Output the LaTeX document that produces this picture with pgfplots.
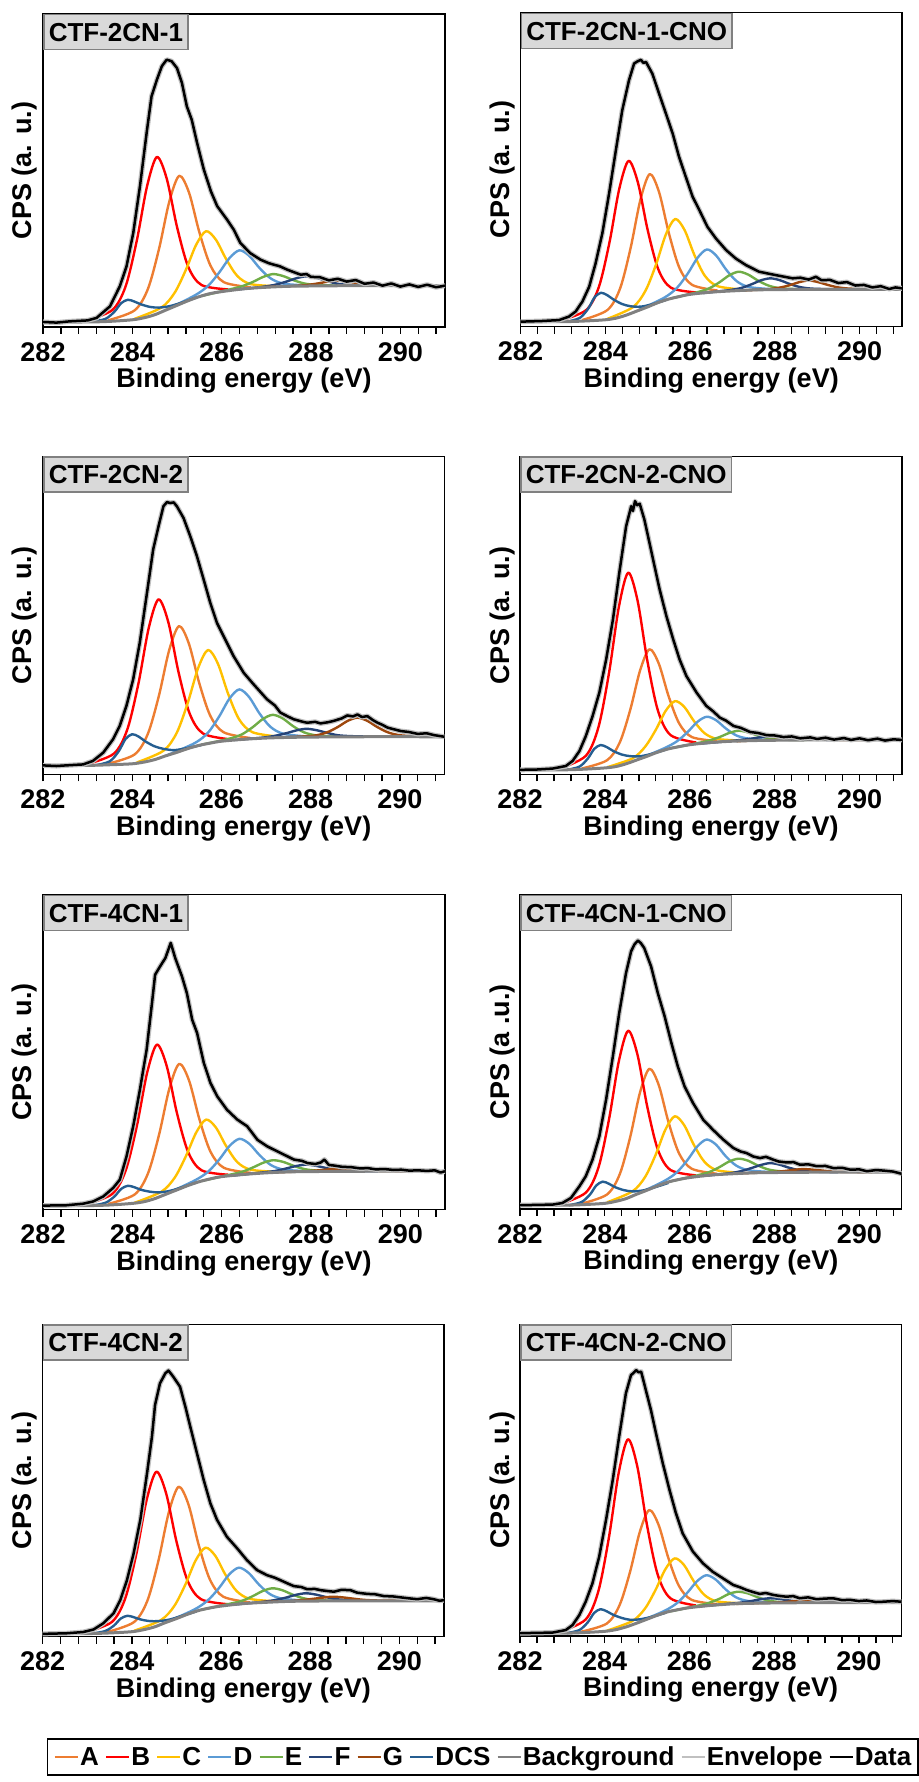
\documentclass[border=0pt]{standalone}
\usepackage{pgfplots}
\usepackage{pgfplotstable}
\pgfplotsset{compat=1.18}
\usepackage{fontspec}
\setmainfont{Liberation Sans}
\newcommand{\F}{\fontsize{26}{31}\selectfont\bfseries}
\newcommand{\FL}{\fontsize{27}{32}\selectfont\bfseries}
\definecolor{cA}{HTML}{ED7D31}
\definecolor{cB}{HTML}{FF0000}
\definecolor{cC}{HTML}{FFC000}
\definecolor{cD}{HTML}{5B9BD5}
\definecolor{cE}{HTML}{70AD47}
\definecolor{cF}{HTML}{264478}
\definecolor{cG}{HTML}{9E480E}
\definecolor{cDCS}{HTML}{255E91}
\definecolor{cBg}{HTML}{808080}
\definecolor{cEnv}{HTML}{C0C0C0}
\definecolor{boxfill}{HTML}{D9D9D9}
\definecolor{boxdraw}{HTML}{808080}

\pgfplotstableread{
x y
282.0 1.6
282.3 1.4
282.6 1.8
283.0 2.1
283.2 2.9
283.5 6.6
283.72 13.0
283.87 19.4
284.02 30.0
284.17 44.9
284.32 62.0
284.43 73.7
284.55 79.0
284.66 83.3
284.77 85.4
284.88 84.9
285.0 82.7
285.11 78.0
285.22 70.5
285.33 66.2
285.45 58.8
285.6 50.3
285.76 43.3
285.9 38.6
286.12 34.3
286.27 31.1
286.42 26.8
286.64 23.6
286.87 21.5
287.05 20.4
287.17 19.9
287.3 19.4
287.47 18.3
287.6 17.6
287.77 16.7
287.9 16.9
288.0 16.0
288.2 15.9
288.4 14.9
288.6 15.4
288.8 14.5
289.0 15.0
289.2 13.8
289.4 14.2
289.6 13.2
289.8 13.9
290.0 12.9
290.2 13.6
290.4 12.8
290.6 13.5
290.8 12.7
291.0 13.2
}\dA

\pgfplotstableread{
x y
282.0 1.6
282.5 1.8
282.91 2.1
283.14 3.2
283.3 4.8
283.46 8.0
283.62 12.7
283.77 20.1
283.93 29.7
284.09 42.4
284.25 56.2
284.4 68.9
284.56 78.5
284.68 83.8
284.76 84.5
284.84 85.0
284.9 84.0
284.96 84.3
285.11 80.6
285.27 74.2
285.43 67.9
285.59 61.5
285.74 54.1
285.9 47.7
286.06 41.4
286.22 37.1
286.41 31.8
286.61 28.1
286.85 24.4
287.08 21.7
287.32 19.6
287.63 17.5
288.03 16.4
288.42 15.4
288.6 15.6
288.8 15.0
288.97 15.9
289.1 14.8
289.3 14.9
289.5 13.9
289.7 14.2
289.9 13.1
290.1 13.3
290.3 12.5
290.5 12.9
290.7 12.0
290.85 12.5
291.0 12.2
}\dB

\pgfplotstableread{
x y
282.0 2.8
282.3 2.6
282.52 2.8
282.9 3.1
283.12 4.2
283.35 6.8
283.57 11.0
283.72 15.2
283.87 21.5
284.02 29.8
284.17 41.4
284.32 56.0
284.47 70.7
284.59 78.0
284.7 84.3
284.78 85.6
284.85 85.3
284.93 85.5
285.0 84.3
285.15 80.6
285.3 74.9
285.45 68.6
285.6 61.3
285.75 53.9
285.9 47.6
286.12 41.4
286.27 37.2
286.5 31.9
286.72 28.3
287.02 23.6
287.2 21.6
287.32 19.4
287.5 18.1
287.62 17.3
287.8 16.6
287.92 16.2
288.1 16.5
288.22 16.0
288.4 16.4
288.52 16.8
288.7 17.6
288.82 18.5
288.95 18.2
289.05 18.8
289.15 18.0
289.27 18.3
289.4 17.0
289.5 16.2
289.6 15.6
289.72 14.7
289.85 14.2
290.02 13.6
290.2 13.3
290.4 12.7
290.6 12.9
290.77 12.3
291.0 11.8
}\dC

\pgfplotstableread{
x y
282.0 1.4
282.4 1.5
282.77 1.8
283.08 2.6
283.24 4.2
283.4 7.3
283.55 12.0
283.71 18.3
283.87 25.7
284.03 36.1
284.19 48.7
284.34 63.4
284.5 78.0
284.62 84.3
284.66 82.8
284.71 85.9
284.76 84.6
284.82 85.1
284.93 80.1
285.05 72.8
285.17 65.4
285.29 58.1
285.45 49.7
285.61 42.4
285.76 36.1
285.92 30.9
286.16 25.7
286.39 21.5
286.55 19.8
286.71 17.8
286.85 16.9
287.03 15.2
287.2 14.6
287.42 13.3
287.6 13.0
287.81 12.3
288.0 12.2
288.21 11.7
288.4 11.9
288.6 11.3
288.84 11.6
289.0 11.1
289.2 11.5
289.4 10.9
289.63 11.4
289.8 10.8
290.0 11.3
290.2 10.7
290.42 11.2
290.6 10.6
290.8 11.0
291.0 10.8
}\dD

\pgfplotstableread{
x y
282.0 1.3
282.52 1.4
282.9 1.9
283.12 2.6
283.35 4.2
283.57 6.9
283.72 9.5
283.87 16.9
284.02 26.5
284.17 38.1
284.32 50.8
284.44 65.6
284.51 74.6
284.62 77.2
284.74 79.9
284.86 84.7
284.96 79.9
285.11 74.1
285.22 68.8
285.34 60.3
285.45 56.1
285.6 46.6
285.75 40.2
285.9 36.0
286.12 31.7
286.35 28.6
286.57 26.5
286.8 22.2
287.02 20.1
287.32 18.0
287.62 15.9
287.8 15.5
287.92 14.8
288.1 14.5
288.22 15.0
288.3 15.9
288.4 14.2
288.52 14.0
288.7 13.6
288.9 13.5
289.1 13.1
289.27 13.2
289.45 12.8
289.65 12.9
289.85 12.6
290.02 12.7
290.2 12.4
290.4 12.5
290.6 12.3
290.77 12.5
290.9 11.8
291.0 12.2
}\dE

\pgfplotstableread{
x y
282.0 1.2
282.4 1.3
282.77 1.4
283.0 1.9
283.2 3.5
283.4 7.2
283.55 10.4
283.71 15.7
283.87 23.1
284.03 34.8
284.19 48.6
284.34 62.4
284.5 75.1
284.62 82.0
284.7 84.2
284.78 85.4
284.85 84.6
284.93 83.0
285.09 77.2
285.25 68.7
285.41 61.3
285.57 52.8
285.72 45.4
285.88 39.0
286.08 33.7
286.32 28.4
286.55 25.2
286.79 22.1
287.03 19.4
287.2 18.3
287.34 17.8
287.5 16.7
287.66 16.2
287.8 16.6
287.97 15.7
288.1 15.1
288.29 14.8
288.45 14.9
288.6 14.1
288.8 14.2
289.0 13.6
289.2 13.7
289.39 13.0
289.6 13.1
289.79 12.5
290.0 12.6
290.18 12.0
290.4 12.4
290.58 12.2
290.8 11.9
291.0 11.2
}\dF

\pgfplotstableread{
x y
282.0 0.9
282.54 1.1
282.91 1.5
283.14 2.3
283.36 4.3
283.59 7.5
283.74 11.7
283.89 18.1
284.04 26.7
284.19 37.4
284.34 52.3
284.45 64.0
284.52 74.2
284.63 81.1
284.75 84.3
284.82 85.2
284.93 83.2
285.08 80.0
285.2 73.6
285.31 67.2
285.46 58.7
285.61 50.2
285.76 42.7
285.91 37.4
286.13 32.0
286.36 28.3
286.58 24.5
286.81 21.3
287.03 19.7
287.2 18.9
287.33 18.1
287.5 17.0
287.63 16.2
287.8 15.9
287.93 15.2
288.1 15.3
288.23 14.9
288.4 14.6
288.53 14.4
288.7 15.0
288.9 14.9
289.05 14.1
289.28 13.7
289.45 13.6
289.65 13.0
289.85 12.9
290.02 12.6
290.2 12.3
290.4 12.0
290.6 12.4
290.77 12.0
290.9 11.5
291.0 11.7
}\dG

\pgfplotstableread{
x y
282.0 0.9
282.4 1.0
282.77 1.1
283.08 1.9
283.24 3.5
283.4 6.7
283.55 11.0
283.71 16.9
283.87 25.5
284.03 37.2
284.19 50.1
284.34 64.0
284.5 77.9
284.62 83.7
284.68 84.4
284.74 85.3
284.8 84.6
284.86 84.8
284.97 78.9
285.09 72.5
285.21 65.0
285.37 55.4
285.53 46.8
285.68 39.4
285.84 32.9
286.08 27.1
286.32 23.3
286.55 20.6
286.79 18.5
287.03 16.4
287.2 15.6
287.34 14.8
287.5 14.1
287.66 13.5
287.8 13.8
287.97 13.2
288.1 12.9
288.29 12.6
288.45 12.8
288.6 12.1
288.8 12.4
289.0 11.8
289.2 12.0
289.39 12.1
289.6 11.5
289.79 11.6
290.0 11.2
290.18 11.4
290.4 10.9
290.58 11.0
290.8 11.2
291.0 11.0
}\dH

\pgfplotsset{
  xps/.style={
    scale only axis, xmin=282, xmax=291, ymin=0, ymax=100,
    xtick={282,284,286,288,290},
    minor xtick={282.4,282.8,283.2,283.6,284.4,284.8,285.2,285.6,286.4,286.8,287.2,287.6,288.4,288.8,289.2,289.6,290.4,290.8},
    ytick=\empty, xtick pos=left, tick align=outside,
    major tick length=7pt, minor tick length=7pt,
    tick style={line width=1.3pt, black},
    axis line style={line width=1.3pt},
    /pgf/number format/assume math mode=true,
    xticklabel style={font=\FL, inner sep=0pt, anchor=north, yshift=-8pt},
    xlabel={Binding energy (eV)},
    xlabel style={font=\FL, at={(axis description cs:0.5,0)}, anchor=north, inner sep=0pt, yshift=-41pt},
    ylabel style={font=\FL, anchor=center},
    every axis plot/.append style={line width=2.4pt, line join=round},
    legend image code/.code={\draw[line width=2.4pt] (0pt,0pt) -- (23pt,0pt);},
  },
  lcol/.style={ylabel style={at={(axis description cs:-0.045,0.5)}}},
  rcol/.style={ylabel style={at={(axis description cs:-0.047,0.5)}}},
  pA/.style={cA, smooth},
  pB/.style={cB, smooth},
  pC/.style={cC, smooth},
  pD/.style={cD, smooth},
  pE/.style={cE, smooth},
  pF/.style={cF, smooth},
  pG/.style={cG, smooth},
  pDCS/.style={cDCS, smooth},
  pBg/.style={cBg, smooth, line width=3pt},
  pEnv/.style={cEnv, line width=5pt},
  pData/.style={black, line width=2.5pt},
}
\tikzset{tbox/.style={draw=boxdraw, fill=boxfill, line width=1.5pt, font=\F, inner xsep=5pt, inner ysep=0pt, minimum height=35pt, text height=18.7pt, text depth=0pt, anchor=north west}}

\begin{document}
\begin{tikzpicture}
\useasboundingbox (0,0) rectangle (918pt,1782pt);

% ---------------- Panel 1
\begin{axis}[xps, lcol, name=a1, at={(43pt,1455pt)}, anchor=south west, width=402pt, height=313pt, ylabel={CPS (a. u.)}]
\addplot[pA] coordinates {(283.45,2.1)(284.05,5.3)(284.35,12.2)(284.60,25.1)(284.83,40.2)(285.05,48.3)(285.27,42.9)(285.50,30.3)(285.75,19.6)(286.05,14.3)(286.65,12.7)};
\addplot[pB] coordinates {(282.95,2.0)(283.55,5.4)(283.85,13.0)(284.10,27.6)(284.33,45.0)(284.55,54.3)(284.77,47.4)(285.00,32.0)(285.25,19.3)(285.55,13.4)(286.15,12.0)};
\addplot[pC] coordinates {(284.05,2.6)(284.65,6.2)(284.95,11.0)(285.20,18.3)(285.43,26.3)(285.65,30.6)(285.87,27.9)(286.10,21.7)(286.35,16.3)(286.65,13.7)(287.25,13.0)};
\addplot[pD] coordinates {(284.80,5.8)(285.40,10.1)(285.70,13.2)(285.95,17.5)(286.18,22.1)(286.40,24.5)(286.62,22.7)(286.85,18.8)(287.10,15.5)(287.40,13.8)(288.00,13.2)};
\addplot[pE] coordinates {(285.55,9.9)(286.15,11.9)(286.45,13.0)(286.70,14.4)(286.93,16.0)(287.15,16.9)(287.37,16.3)(287.60,15.0)(287.85,13.9)(288.15,13.4)(288.75,13.2)};
\addplot[pF] coordinates {(286.30,11.9)(286.90,12.8)(287.20,13.5)(287.45,14.5)(287.68,15.6)(287.90,16.2)(288.12,15.7)(288.35,14.7)(288.60,13.8)(288.90,13.4)(289.50,13.2)};
\addplot[pG] coordinates {(287.0,12.8)(287.6,13.1)(287.9,13.4)(288.15,13.9)(288.38,14.5)(288.6,14.8)(288.82,14.5)(289.05,14.0)(289.3,13.6)(289.6,13.3)(290.2,13.2)};
\addplot[pDCS] coordinates {(283.10,1.7)(283.40,2.6)(283.60,4.9)(283.75,7.6)(283.90,8.7)(284.05,8.1)(284.20,7.2)(284.40,6.4)(284.60,6.2)(284.85,6.7)(285.15,8.0)(285.45,9.5)};
\addplot[pBg] coordinates {(282,1.6)(283,1.6)(283.5,1.8)(284,2.3)(284.25,2.9)(284.5,3.9)(284.75,5.4)(285,6.9)(285.25,8.4)(285.5,9.7)(285.75,10.7)(286,11.3)(286.5,12.2)(287,12.7)(287.5,13.0)(288,13.1)(289,13.2)(291,13.2)};
\addplot[pEnv] table {\dA};
\addplot[pData] table {\dA};
\end{axis}
\node[tbox] at (a1.north west) {CTF-2CN-1};

% ---------------- Panel 2
\begin{axis}[xps, rcol, name=a2, at={(520.5pt,1455.3pt)}, anchor=south west, width=381.5pt, height=314pt, ylabel={CPS (a. u.)}]
\addplot[pA] coordinates {(283.45,2.1)(284.05,5.3)(284.35,12.2)(284.60,25.2)(284.83,40.5)(285.05,48.6)(285.27,42.8)(285.50,29.8)(285.75,18.7)(286.05,13.3)(286.65,11.5)};
\addplot[pB] coordinates {(282.95,2.0)(283.55,5.3)(283.85,12.7)(284.10,26.9)(284.33,43.9)(284.55,52.8)(284.77,45.9)(285.00,30.8)(285.25,18.3)(285.55,12.4)(286.15,10.9)};
\addplot[pC] coordinates {(284.05,2.5)(284.65,6.2)(284.95,11.5)(285.20,19.9)(285.43,29.4)(285.65,34.3)(285.87,30.8)(286.10,22.9)(286.35,16.2)(286.65,12.9)(287.25,11.8)};
\addplot[pD] coordinates {(284.80,5.4)(285.40,9.3)(285.70,12.5)(285.95,17.0)(286.18,22.0)(286.40,24.6)(286.62,22.6)(286.85,18.2)(287.10,14.5)(287.40,12.6)(288.00,11.9)};
\addplot[pE] coordinates {(285.55,9.0)(286.15,10.9)(286.45,12.2)(286.70,14.2)(286.93,16.4)(287.15,17.5)(287.37,16.6)(287.60,14.7)(287.85,13.1)(288.15,12.2)(288.75,11.9)};
\addplot[pF] coordinates {(286.30,10.7)(286.90,11.6)(287.20,12.3)(287.45,13.5)(287.68,14.8)(287.90,15.4)(288.12,14.8)(288.35,13.6)(288.60,12.6)(288.90,12.1)(289.50,11.9)};
\addplot[pG] coordinates {(287.2,11.5)(287.8,11.9)(288.1,12.4)(288.35,13.2)(288.58,14.2)(288.8,14.7)(289.02,14.2)(289.25,13.3)(289.5,12.5)(289.8,12.1)(290.4,11.9)};
\addplot[pDCS] coordinates {(283.10,1.6)(283.40,2.8)(283.60,5.8)(283.75,9.4)(283.90,10.8)(284.05,10.0)(284.20,8.6)(284.40,7.2)(284.60,6.5)(284.85,6.4)(285.15,7.3)(285.45,8.6)};
\addplot[pBg] coordinates {(282,1.6)(283,1.6)(283.5,1.8)(284,2.2)(284.25,2.7)(284.5,3.7)(284.75,5.0)(285,6.3)(285.25,7.7)(285.5,8.8)(285.75,9.6)(286,10.3)(286.5,11.0)(287,11.4)(287.5,11.7)(288,11.8)(289,11.9)(291,11.9)};
\addplot[pEnv] table {\dB};
\addplot[pData] table {\dB};
\end{axis}
\node[tbox] at (a2.north west) {CTF-2CN-1-CNO};

% ---------------- Panel 3
\begin{axis}[xps, lcol, name=a3, at={(43pt,1007.7pt)}, anchor=south west, width=401.5pt, height=318pt, ylabel={CPS (a. u.)}]
\addplot[pA] coordinates {(283.45,3.3)(284.05,6.2)(284.35,12.7)(284.60,24.8)(284.83,39.1)(285.05,46.6)(285.27,41.1)(285.50,28.8)(285.75,18.4)(286.05,13.2)(286.65,11.4)};
\addplot[pB] coordinates {(282.99,3.2)(283.59,6.5)(283.89,14.1)(284.14,28.6)(284.37,46.0)(284.59,55.0)(284.81,47.8)(285.04,32.0)(285.29,19.0)(285.59,12.8)(286.19,11.0)};
\addplot[pC] coordinates {(284.10,3.7)(284.70,7.4)(285.00,13.1)(285.25,22.7)(285.48,33.5)(285.70,39.1)(285.92,34.8)(286.15,25.3)(286.40,17.2)(286.70,13.2)(287.30,11.8)};
\addplot[pD] coordinates {(284.80,6.1)(285.40,9.8)(285.70,13.1)(285.95,18.2)(286.18,23.8)(286.40,26.7)(286.62,24.3)(286.85,19.2)(287.10,14.9)(287.40,12.7)(288.00,11.8)};
\addplot[pE] coordinates {(285.55,9.3)(286.15,11.1)(286.45,12.5)(286.70,14.8)(286.93,17.4)(287.15,18.7)(287.37,17.6)(287.60,15.2)(287.85,13.2)(288.15,12.2)(288.75,11.8)};
\addplot[pF] coordinates {(286.30,10.8)(286.90,11.5)(287.20,12.1)(287.45,12.9)(287.68,13.8)(287.90,14.3)(288.12,13.9)(288.35,13.1)(288.60,12.3)(288.90,12.0)(289.50,11.8)};
\addplot[pG] coordinates {(287.45,11.7)(288.05,12.1)(288.35,13.1)(288.6,14.8)(288.83,16.8)(289.05,17.8)(289.27,16.8)(289.5,14.8)(289.75,13.1)(290.05,12.2)(290.65,11.9)};
\addplot[pDCS] coordinates {(283.2,2.9)(283.5,4.1)(283.7,7.3)(283.85,11.1)(284.0,12.6)(284.15,11.8)(284.3,10.3)(284.5,8.8)(284.7,8.0)(284.95,7.6)(285.25,8.3)(285.55,9.2)};
\addplot[pBg] coordinates {(282,2.8)(283,2.8)(283.5,3.0)(284,3.3)(284.25,3.8)(284.5,4.6)(284.75,5.8)(285,6.9)(285.25,8.1)(285.5,9.1)(285.75,9.8)(286,10.4)(286.5,11.0)(287,11.4)(287.5,11.6)(288,11.7)(289,11.8)(291,11.8)};
\addplot[pEnv] table {\dC};
\addplot[pData] table {\dC};
\end{axis}
\node[tbox] at (a3.north west) {CTF-2CN-2};

% ---------------- Panel 4
\begin{axis}[xps, rcol, name=a4, at={(520pt,1007.7pt)}, anchor=south west, width=382pt, height=318pt, ylabel={CPS (a. u.)}]
\addplot[pA] coordinates {(283.45,1.8)(284.05,4.4)(284.35,10.0)(284.60,20.4)(284.83,32.7)(285.05,39.3)(285.27,34.8)(285.50,24.6)(285.75,16.0)(286.05,11.7)(286.65,10.4)};
\addplot[pB] coordinates {(282.95,1.9)(283.55,5.8)(283.85,14.9)(284.10,32.1)(284.33,52.7)(284.55,63.4)(284.77,54.6)(285.00,35.7)(285.25,20.0)(285.55,12.3)(286.15,10.0)};
\addplot[pC] coordinates {(284.05,2.2)(284.65,5.0)(284.95,8.7)(285.20,14.0)(285.43,19.9)(285.65,23.0)(285.87,21.2)(286.10,16.7)(286.35,12.9)(286.65,11.1)(287.25,10.6)};
\addplot[pD] coordinates {(284.80,4.8)(285.40,8.2)(285.70,10.4)(285.95,13.3)(286.18,16.5)(286.40,18.1)(286.62,17.0)(286.85,14.4)(287.10,12.2)(287.40,11.2)(288.00,10.8)};
\addplot[pE] coordinates {(285.55,8.2)(286.15,9.7)(286.45,10.6)(286.70,11.7)(286.93,13.0)(287.15,13.7)(287.37,13.2)(287.60,12.2)(287.85,11.4)(288.15,10.9)(288.75,10.8)};
\addplot[pF] coordinates {(286.30,9.7)(286.90,10.4)(287.20,10.8)(287.45,11.2)(287.68,11.7)(287.90,12.0)(288.12,11.8)(288.35,11.4)(288.60,11.0)(288.90,10.9)(289.50,10.8)};
\addplot[pG] coordinates {(287.1,10.4)(287.7,10.7)(288.0,10.8)(288.25,11.0)(288.48,11.2)(288.7,11.3)(288.92,11.2)(289.15,11.1)(289.4,10.9)(289.7,10.8)(290.3,10.8)};
\addplot[pDCS] coordinates {(283.10,1.4)(283.40,2.4)(283.60,5.0)(283.75,8.0)(283.90,9.2)(284.05,8.5)(284.20,7.3)(284.40,6.2)(284.60,5.7)(284.85,5.7)(285.15,6.6)(285.45,7.8)};
\addplot[pBg] coordinates {(282,1.4)(283,1.4)(283.5,1.6)(284,2.0)(284.25,2.4)(284.5,3.3)(284.75,4.5)(285,5.7)(285.25,7.0)(285.5,8.0)(285.75,8.7)(286,9.3)(286.5,10.0)(287,10.4)(287.5,10.6)(288,10.7)(289,10.8)(291,10.8)};
\addplot[pEnv] table {\dD};
\addplot[pData] table {\dD};
\end{axis}
\node[tbox] at (a4.north west) {CTF-2CN-2-CNO};

% ---------------- Panel 5
\begin{axis}[xps, lcol, name=a5, at={(43pt,572.3pt)}, anchor=south west, width=402pt, height=315pt, ylabel={CPS (a. u.)}]
\addplot[pA] coordinates {(283.45,1.8)(284.05,4.8)(284.35,11.5)(284.60,23.9)(284.83,38.5)(285.05,46.3)(285.27,41.0)(285.50,28.8)(285.75,18.4)(286.05,13.3)(286.65,11.7)};
\addplot[pB] coordinates {(282.95,1.7)(283.55,5.0)(283.85,12.4)(284.10,26.5)(284.33,43.4)(284.55,52.4)(284.77,45.6)(285.00,30.6)(285.25,18.3)(285.55,12.5)(286.15,11.1)};
\addplot[pC] coordinates {(284.05,2.2)(284.65,5.7)(284.95,10.2)(285.20,17.0)(285.43,24.5)(285.65,28.6)(285.87,26.1)(286.10,20.2)(286.35,15.1)(286.65,12.7)(287.25,12.0)};
\addplot[pD] coordinates {(284.80,5.3)(285.40,9.3)(285.70,12.1)(285.95,16.0)(286.18,20.3)(286.40,22.5)(286.62,20.9)(286.85,17.3)(287.10,14.2)(287.40,12.7)(288.00,12.2)};
\addplot[pE] coordinates {(285.55,9.1)(286.15,11.0)(286.45,12.0)(286.70,13.4)(286.93,14.9)(287.15,15.7)(287.37,15.2)(287.60,14.0)(287.85,12.9)(288.15,12.4)(288.75,12.2)};
\addplot[pF] coordinates {(286.30,10.9)(286.90,11.8)(287.20,12.3)(287.45,13.1)(287.68,13.9)(287.90,14.3)(288.12,13.9)(288.35,13.2)(288.60,12.6)(288.90,12.3)(289.50,12.2)};
\addplot[pG] coordinates {(287.1,11.8)(287.7,12.1)(288.0,12.3)(288.25,12.6)(288.48,12.9)(288.7,13.1)(288.92,12.9)(289.15,12.7)(289.4,12.4)(289.7,12.3)(290.3,12.2)};
\addplot[pDCS] coordinates {(283.10,1.3)(283.40,2.2)(283.60,4.2)(283.75,6.6)(283.90,7.6)(284.05,7.1)(284.20,6.3)(284.40,5.7)(284.60,5.5)(284.85,6.0)(285.15,7.3)(285.45,8.7)};
\addplot[pBg] coordinates {(282,1.3)(283,1.3)(283.5,1.5)(284,2.0)(284.25,2.5)(284.5,3.5)(284.75,4.9)(285,6.3)(285.25,7.7)(285.5,8.9)(285.75,9.8)(286,10.5)(286.5,11.2)(287,11.7)(287.5,12.0)(288,12.1)(289,12.2)(291,12.2)};
\addplot[pEnv] table {\dE};
\addplot[pData] table {\dE};
\end{axis}
\node[tbox] at (a5.north west) {CTF-4CN-1};

% ---------------- Panel 6
\begin{axis}[xps, rcol, name=a6, at={(520pt,573pt)}, anchor=south west, width=381.7pt, height=314.3pt, ylabel={CPS (a .u.)}]
\addplot[pA] coordinates {(283.45,1.7)(284.05,4.6)(284.35,11.0)(284.60,23.0)(284.83,37.1)(285.05,44.6)(285.27,39.5)(285.50,27.7)(285.75,17.7)(286.05,12.8)(286.65,11.2)};
\addplot[pB] coordinates {(282.95,1.6)(283.55,5.2)(283.85,13.2)(284.10,28.6)(284.33,47.0)(284.55,56.7)(284.77,49.1)(285.00,32.6)(285.25,18.9)(285.55,12.4)(286.15,10.7)};
\addplot[pC] coordinates {(284.05,2.1)(284.65,5.6)(284.95,10.2)(285.20,17.3)(285.43,25.3)(285.65,29.5)(285.87,26.7)(286.10,20.4)(286.35,15.0)(286.65,12.3)(287.25,11.5)};
\addplot[pD] coordinates {(284.80,5.0)(285.40,8.9)(285.70,11.7)(285.95,15.6)(286.18,19.9)(286.40,22.1)(286.62,20.5)(286.85,16.8)(287.10,13.8)(287.40,12.3)(288.00,11.7)};
\addplot[pE] coordinates {(285.55,8.8)(286.15,10.6)(286.45,11.7)(286.70,13.3)(286.93,15.1)(287.15,16.0)(287.37,15.4)(287.60,13.9)(287.85,12.6)(288.15,12.0)(288.75,11.7)};
\addplot[pF] coordinates {(286.30,10.5)(286.90,11.3)(287.20,12.0)(287.45,13.0)(287.68,14.0)(287.90,14.6)(288.12,14.1)(288.35,13.1)(288.60,12.3)(288.90,11.9)(289.50,11.7)};
\addplot[pG] coordinates {(287.1,11.3)(287.7,11.6)(288.0,11.8)(288.25,12.1)(288.48,12.5)(288.7,12.7)(288.92,12.5)(289.15,12.2)(289.4,11.9)(289.7,11.8)(290.3,11.7)};
\addplot[pDCS] coordinates {(283.15,1.2)(283.45,2.2)(283.65,4.6)(283.8,7.5)(283.95,8.7)(284.1,8.0)(284.25,6.9)(284.45,6.0)(284.65,5.6)(284.9,5.9)(285.2,7.0)(285.5,8.3)};
\addplot[pBg] coordinates {(282,1.2)(283,1.2)(283.5,1.4)(284,1.8)(284.25,2.4)(284.5,3.3)(284.75,4.7)(285,6.0)(285.25,7.4)(285.5,8.6)(285.75,9.4)(286,10.0)(286.5,10.8)(287,11.2)(287.5,11.5)(288,11.6)(289,11.7)(291,11.7)};
\addplot[pEnv] table {\dF};
\addplot[pData] table {\dF};
\end{axis}
\node[tbox] at (a6.north west) {CTF-4CN-1-CNO};

% ---------------- Panel 7 (with legend)
\begin{axis}[xps, lcol, name=a7, at={(42.7pt,145.3pt)}, anchor=south west, width=401.3pt, height=312.4pt, ylabel={CPS (a. u.)},
  legend columns=-1,
  legend style={at={(axis description cs:0.0107,-0.3243)}, anchor=north west, draw=black, line width=1.5pt, fill=white, font=\F, inner xsep=6pt, inner ysep=7pt, nodes={inner sep=1pt}, column sep=0pt, /tikz/every even column/.append style={column sep=5pt}}]
\addplot[pA] coordinates {(283.45,1.5)(284.05,4.7)(284.35,11.6)(284.60,24.6)(284.83,39.9)(285.05,48.0)(285.27,42.3)(285.50,29.3)(285.75,18.3)(286.05,12.8)(286.65,11.0)};
\addplot[pB] coordinates {(282.95,1.4)(283.55,4.7)(283.85,12.2)(284.10,26.5)(284.33,43.7)(284.55,52.8)(284.77,45.8)(285.00,30.5)(285.25,17.9)(285.55,12.0)(286.15,10.4)};
\addplot[pC] coordinates {(284.05,1.9)(284.65,5.3)(284.95,9.8)(285.20,16.7)(285.43,24.4)(285.65,28.5)(285.87,25.9)(286.10,19.8)(286.35,14.6)(286.65,12.1)(287.25,11.3)};
\addplot[pD] coordinates {(284.80,4.8)(285.40,8.7)(285.70,11.6)(285.95,15.5)(286.18,19.9)(286.40,22.1)(286.62,20.4)(286.85,16.7)(287.10,13.6)(287.40,12.1)(288.00,11.5)};
\addplot[pE] coordinates {(285.55,8.6)(286.15,10.4)(286.45,11.4)(286.70,12.9)(286.93,14.6)(287.15,15.5)(287.37,14.9)(287.60,13.5)(287.85,12.3)(288.15,11.7)(288.75,11.5)};
\addplot[pF] coordinates {(286.30,10.3)(286.90,11.1)(287.20,11.7)(287.45,12.5)(287.68,13.4)(287.90,13.9)(288.12,13.5)(288.35,12.7)(288.60,12.0)(288.90,11.7)(289.50,11.5)};
\addplot[pG] coordinates {(286.9,11.1)(287.5,11.4)(287.8,11.7)(288.05,12.1)(288.28,12.5)(288.5,12.8)(288.72,12.6)(288.95,12.2)(289.2,11.8)(289.5,11.6)(290.1,11.5)};
\addplot[pDCS] coordinates {(283.10,1.0)(283.40,1.8)(283.60,3.6)(283.75,5.8)(283.90,6.7)(284.05,6.2)(284.20,5.5)(284.40,5.0)(284.60,5.0)(284.85,5.5)(285.15,6.8)(285.45,8.1)};
\addplot[pBg] coordinates {(282,1.0)(283,1.0)(283.5,1.2)(284,1.6)(284.25,2.2)(284.5,3.1)(284.75,4.5)(285,5.8)(285.25,7.2)(285.5,8.4)(285.75,9.2)(286,9.8)(286.5,10.6)(287,11.0)(287.5,11.3)(288,11.4)(289,11.5)(291,11.5)};
\addplot[pEnv] table {\dG};
\addplot[pData] table {\dG};
\legend{A,B,C,D,E,F,G,DCS,Background,Envelope,Data}
\end{axis}
\node[tbox] at (a7.north west) {CTF-4CN-2};

% ---------------- Panel 8
\begin{axis}[xps, rcol, name=a8, at={(520pt,146pt)}, anchor=south west, width=381.3pt, height=311.7pt, ylabel={CPS (a. u.)}]
\addplot[pA] coordinates {(283.45,1.4)(284.05,4.0)(284.35,9.9)(284.60,20.7)(284.83,33.5)(285.05,40.4)(285.27,35.7)(285.50,25.1)(285.75,16.1)(286.05,11.6)(286.65,10.2)};
\addplot[pB] coordinates {(282.95,1.4)(283.55,5.3)(283.85,14.4)(284.10,31.7)(284.33,52.4)(284.55,63.1)(284.77,54.3)(285.00,35.4)(285.25,19.7)(285.55,12.1)(286.15,9.8)};
\addplot[pC] coordinates {(284.05,1.7)(284.65,4.8)(284.95,8.8)(285.20,14.8)(285.43,21.4)(285.65,24.9)(285.87,22.8)(286.10,17.6)(286.35,13.2)(286.65,11.1)(287.25,10.5)};
\addplot[pD] coordinates {(284.80,4.5)(285.40,8.0)(285.70,10.5)(285.95,13.9)(286.18,17.6)(286.40,19.5)(286.62,18.1)(286.85,15.0)(287.10,12.4)(287.40,11.2)(288.00,10.7)};
\addplot[pE] coordinates {(285.55,7.9)(286.15,9.6)(286.45,10.6)(286.70,11.9)(286.93,13.5)(287.15,14.2)(287.37,13.7)(287.60,12.5)(287.85,11.4)(288.15,10.9)(288.75,10.7)};
\addplot[pF] coordinates {(286.30,9.6)(286.90,10.3)(287.20,10.7)(287.45,11.2)(287.68,11.8)(287.90,12.1)(288.12,11.9)(288.35,11.4)(288.60,11.0)(288.90,10.8)(289.50,10.7)};
\addplot[pG] coordinates {(287.1,10.3)(287.7,10.6)(288.0,10.7)(288.25,10.9)(288.48,11.2)(288.7,11.3)(288.92,11.2)(289.15,11.0)(289.4,10.8)(289.7,10.7)(290.3,10.7)};
\addplot[pDCS] coordinates {(283.10,0.9)(283.40,1.9)(283.60,4.4)(283.75,7.4)(283.90,8.6)(284.05,7.9)(284.20,6.8)(284.40,5.8)(284.60,5.2)(284.85,5.4)(285.15,6.3)(285.45,7.5)};
\addplot[pBg] coordinates {(282,0.9)(283,0.9)(283.5,1.1)(284,1.5)(284.25,2.0)(284.5,2.9)(284.75,4.1)(285,5.4)(285.25,6.7)(285.5,7.8)(285.75,8.5)(286,9.1)(286.5,9.8)(287,10.3)(287.5,10.5)(288,10.6)(289,10.7)(291,10.7)};
\addplot[pEnv] table {\dH};
\addplot[pData] table {\dH};
\end{axis}
\node[tbox] at (a8.north west) {CTF-4CN-2-CNO};

\end{tikzpicture}
\end{document}
